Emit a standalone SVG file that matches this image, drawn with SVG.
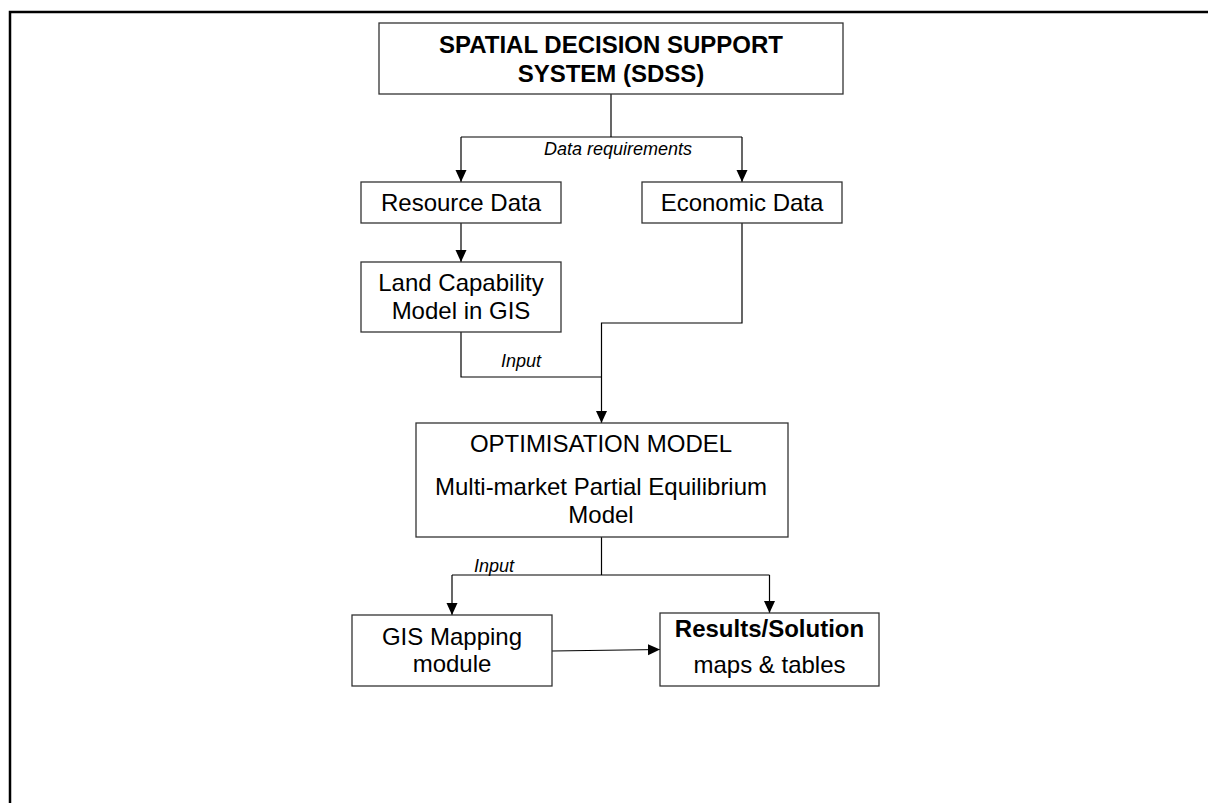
<svg xmlns="http://www.w3.org/2000/svg" width="1208" height="803" viewBox="0 0 1208 803">
<style>
.box{fill:#fff;stroke:#333;stroke-width:1.3}
.t{font-family:"Liberation Sans",Arial,sans-serif;font-size:24px;fill:#000;text-anchor:middle}
.b{font-weight:bold}
.lbl{font-family:"Liberation Sans",Arial,sans-serif;font-size:18px;font-style:italic;fill:#000;text-anchor:middle}
.c{fill:none;stroke:#000;stroke-width:1.2}
</style>
<defs>
<marker id="ah" markerWidth="12" markerHeight="12" viewBox="0 0 12 12" refX="12" refY="6" orient="auto" markerUnits="userSpaceOnUse">
<path d="M0,0.5 L12,6 L0,11.5 Z" fill="#000"/>
</marker>
</defs>
<rect width="1208" height="803" fill="#fff"/>
<path d="M10,810 V12 H1215" fill="none" stroke="#000" stroke-width="2.5"/>
<g id="connectors">
<path class="c" d="M611,94 V137"/>
<path class="c" d="M461,137 H742"/>
<path class="c" d="M461,137 V182" marker-end="url(#ah)"/>
<path class="c" d="M742,137 V182" marker-end="url(#ah)"/>
<path class="c" d="M461,223 V262" marker-end="url(#ah)"/>
<path class="c" d="M742,223 V323 H601.5 V423" marker-end="url(#ah)"/>
<path class="c" d="M461,332 V377 H601.5"/>
<path class="c" d="M601.5,537 V575"/>
<path class="c" d="M452,575 H769.5"/>
<path class="c" d="M452,575 V615" marker-end="url(#ah)"/>
<path class="c" d="M769.5,575 V613" marker-end="url(#ah)"/>
<path class="c" d="M552,651 L660,649.5" marker-end="url(#ah)"/>
<text class="lbl" x="618" y="155">Data requirements</text>
<text class="lbl" x="521" y="367">Input</text>
<text class="lbl" x="494" y="572">Input</text>
</g>
<g id="sdss">
<rect class="box" x="379" y="23" width="464" height="71"/>
<text class="t b" x="611" y="53">SPATIAL DECISION SUPPORT</text>
<text class="t b" x="611" y="82">SYSTEM (SDSS)</text>
</g>
<g id="resource">
<rect class="box" x="361" y="182" width="200" height="41"/>
<text class="t" x="461" y="211">Resource Data</text>
</g>
<g id="economic">
<rect class="box" x="642" y="182" width="200" height="41"/>
<text class="t" x="742" y="211">Economic Data</text>
</g>
<g id="landcap">
<rect class="box" x="361" y="262" width="200" height="70"/>
<text class="t" x="461" y="291">Land Capability</text>
<text class="t" x="461" y="319">Model in GIS</text>
</g>
<g id="optim">
<rect class="box" x="416" y="423" width="372" height="114"/>
<text class="t" x="601" y="452">OPTIMISATION MODEL</text>
<text class="t" x="601" y="495">Multi-market Partial Equilibrium</text>
<text class="t" x="601" y="523">Model</text>
</g>
<g id="gismap">
<rect class="box" x="352" y="615" width="200" height="71"/>
<text class="t" x="452" y="645">GIS Mapping</text>
<text class="t" x="452" y="672">module</text>
</g>
<g id="results">
<rect class="box" x="660" y="613" width="219" height="73"/>
<text class="t b" x="769.5" y="637">Results/Solution</text>
<text class="t" x="769.5" y="673">maps &amp; tables</text>
</g>
</svg>
